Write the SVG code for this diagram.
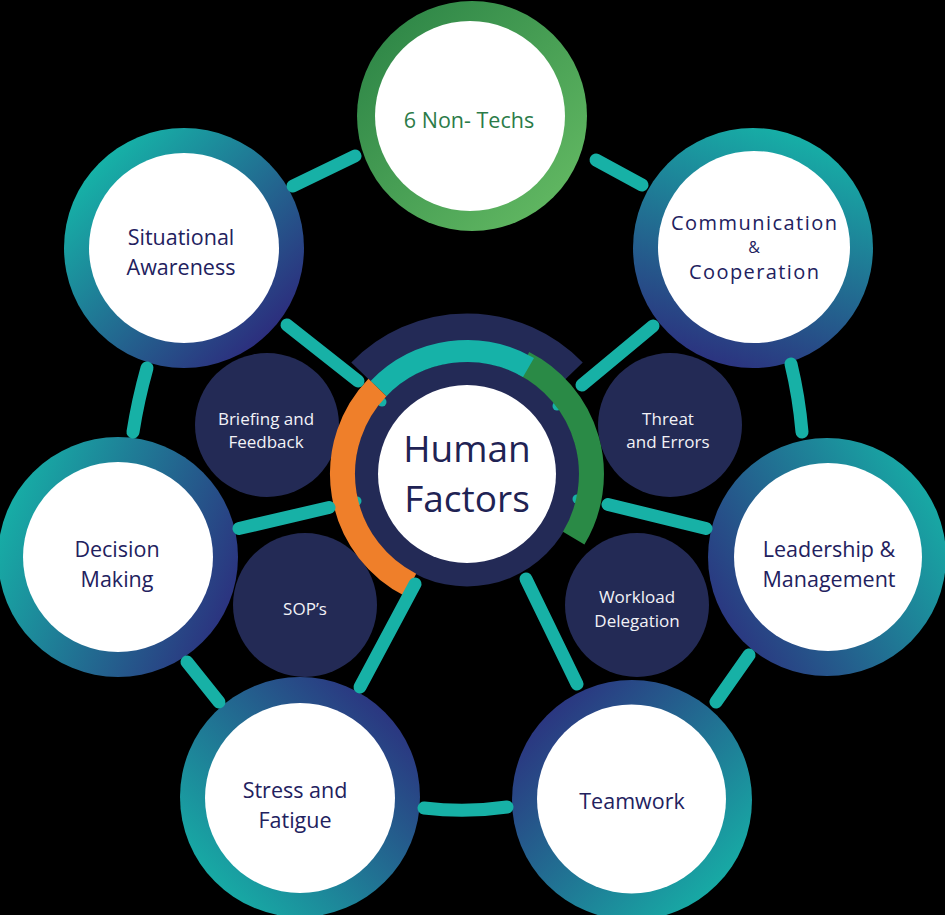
<svg xmlns="http://www.w3.org/2000/svg" width="945" height="915" viewBox="0 0 945 915">
<defs>
<linearGradient id="gSit" x1="0.15" y1="0.15" x2="0.85" y2="0.85"><stop offset="0" stop-color="#16b1a7"/><stop offset="1" stop-color="#2c2f7e"/></linearGradient>
<linearGradient id="gCom" x1="0.65" y1="0" x2="0.3" y2="1"><stop offset="0" stop-color="#16b1a7"/><stop offset="1" stop-color="#2c2f7e"/></linearGradient>
<linearGradient id="gDec" x1="0" y1="0.3" x2="1" y2="0.7"><stop offset="0" stop-color="#16b1a7"/><stop offset="1" stop-color="#2c2f7e"/></linearGradient>
<linearGradient id="gLead" x1="1" y1="0.2" x2="0" y2="0.8"><stop offset="0" stop-color="#16b1a7"/><stop offset="1" stop-color="#2c2f7e"/></linearGradient>
<linearGradient id="gStr" x1="0.1" y1="0.9" x2="0.9" y2="0.1"><stop offset="0" stop-color="#16b1a7"/><stop offset="1" stop-color="#2c2f7e"/></linearGradient>
<linearGradient id="gTeam" x1="0.9" y1="0.9" x2="0.1" y2="0.1"><stop offset="0" stop-color="#16b1a7"/><stop offset="1" stop-color="#2c2f7e"/></linearGradient>
<linearGradient id="gNon" x1="0.1" y1="0.1" x2="0.9" y2="0.9"><stop offset="0" stop-color="#2e8647"/><stop offset="1" stop-color="#62b862"/></linearGradient>
</defs>
<style>
.white{fill:#ffffff}
.lbl{font-family:"Open Sans","Noto Sans","Liberation Sans",sans-serif;font-size:21.5px;fill:#22215e;text-anchor:middle}
.inner{fill:#232a55}
.ilbl{font-family:"Open Sans","Noto Sans","Liberation Sans",sans-serif;font-size:17px;fill:#f2f2f7;text-anchor:middle}
.conn{fill:none;stroke:#17b1a6;stroke-width:13;stroke-linecap:round}
.dot{fill:#17b1a6}
</style>
<rect x="0" y="0" width="945" height="915" fill="#000000"/>

<g id="node-nontechs">
<circle cx="472" cy="116" r="115" fill="url(#gNon)"/>
<circle cx="470" cy="116" r="95" class="white"/>
<text x="469" y="128" class="lbl" style="fill:#2b7b48">6 Non- Techs</text>
</g>

<g id="node-situational">
<circle cx="184" cy="248" r="120" fill="url(#gSit)"/>
<circle cx="184" cy="248" r="95" class="white"/>
<text x="181" y="245" class="lbl">Situational</text>
<text x="181" y="275" class="lbl">Awareness</text>
</g>

<g id="node-communication">
<circle cx="753" cy="248" r="120" fill="url(#gCom)"/>
<circle cx="754" cy="247" r="96" class="white"/>
<text x="754" y="230" class="lbl" style="font-size:20px" textLength="166" lengthAdjust="spacing">Communication</text>
<text x="754" y="253" class="lbl" style="font-size:16px">&amp;</text>
<text x="754" y="279" class="lbl" style="font-size:20px" textLength="130" lengthAdjust="spacing">Cooperation</text>
</g>

<g id="node-decision">
<circle cx="118" cy="557" r="120" fill="url(#gDec)"/>
<circle cx="118" cy="557" r="95" class="white"/>
<text x="117" y="557" class="lbl">Decision</text>
<text x="117" y="587" class="lbl">Making</text>
</g>

<g id="node-leadership">
<circle cx="827" cy="557" r="119" fill="url(#gLead)"/>
<circle cx="828" cy="557" r="94" class="white"/>
<text x="829" y="557" class="lbl">Leadership &amp;</text>
<text x="829" y="587" class="lbl">Management</text>
</g>

<g id="node-stress">
<circle cx="300" cy="797" r="120" fill="url(#gStr)"/>
<circle cx="300" cy="798" r="95" class="white"/>
<text x="295" y="798" class="lbl">Stress and</text>
<text x="295" y="828" class="lbl">Fatigue</text>
</g>

<g id="node-teamwork">
<circle cx="632" cy="800" r="120" fill="url(#gTeam)"/>
<circle cx="631.5" cy="799" r="94.5" class="white"/>
<text x="632" y="809" class="lbl">Teamwork</text>
</g>

<g id="node-briefing">
<circle cx="267" cy="425" r="72" class="inner"/>
<text x="266" y="425" class="ilbl">Briefing and</text>
<text x="266" y="448" class="ilbl">Feedback</text>
</g>

<g id="node-threat">
<circle cx="670" cy="425" r="72" class="inner"/>
<text x="668" y="425" class="ilbl">Threat</text>
<text x="668" y="448" class="ilbl">and Errors</text>
</g>

<g id="node-sops">
<circle cx="305" cy="605" r="72" class="inner"/>
<text x="305" y="615" class="ilbl">SOP’s</text>
</g>

<g id="node-workload">
<circle cx="637" cy="605" r="72" class="inner"/>
<text x="637" y="603" class="ilbl">Workload</text>
<text x="637" y="627" class="ilbl">Delegation</text>
</g>

<g id="node-human-factors">
<circle cx="467" cy="474" r="112.5" fill="#232a56"/>
<circle cx="382" cy="402" r="4.5" class="dot"/>
<circle cx="557" cy="406" r="4.5" class="dot"/>
<circle cx="357" cy="501" r="4.5" class="dot"/>
<circle cx="577" cy="499" r="4.5" class="dot"/>
<path d="M362.4,373.3 A145.5,145.5 0 0 1 571.6,373.3" fill="none" stroke="#232a56" stroke-width="31"/>
<path d="M523.5,363.1 A124.5,124.5 0 0 1 573.7,538.1" fill="none" stroke="#2a8a46" stroke-width="25"/>
<path d="M378.5,388.6 A123,123 0 0 1 528.5,367.5" fill="none" stroke="#16b2a8" stroke-width="22"/>
<path d="M410.5,584.9 A124.5,124.5 0 0 1 377.4,387.5" fill="none" stroke="#ef7f2a" stroke-width="25"/>
<circle cx="467" cy="474" r="89" class="white"/>
<text x="467" y="462" style="font-family:'Open Sans','Noto Sans','Liberation Sans',sans-serif;font-size:37px;fill:#1f2354;text-anchor:middle">Human</text>
<text x="467" y="512" style="font-family:'Open Sans','Noto Sans','Liberation Sans',sans-serif;font-size:37px;fill:#1f2354;text-anchor:middle">Factors</text>
</g>

<g id="connectors">
<path class="conn" d="M293,186 L355,156"/>
<path class="conn" d="M596,160 L642,185"/>
<path class="conn" d="M147,368 Q138,400 133,432"/>
<path class="conn" d="M791,364 Q799,397 802,432"/>
<path class="conn" d="M749,655 L716,702"/>
<path class="conn" d="M187,662 L219,702"/>
<path class="conn" d="M424,808 Q466,813 507,807"/>
<path class="conn" d="M287,325 L358,381"/>
<path class="conn" d="M653,326 L582,385"/>
<path class="conn" d="M239,528.5 L329,507.5"/>
<path class="conn" d="M706,528.5 L608,504.5"/>
<path class="conn" d="M360,687 L415,584"/>
<path class="conn" d="M577,684 L526,579"/>
</g>
</svg>
